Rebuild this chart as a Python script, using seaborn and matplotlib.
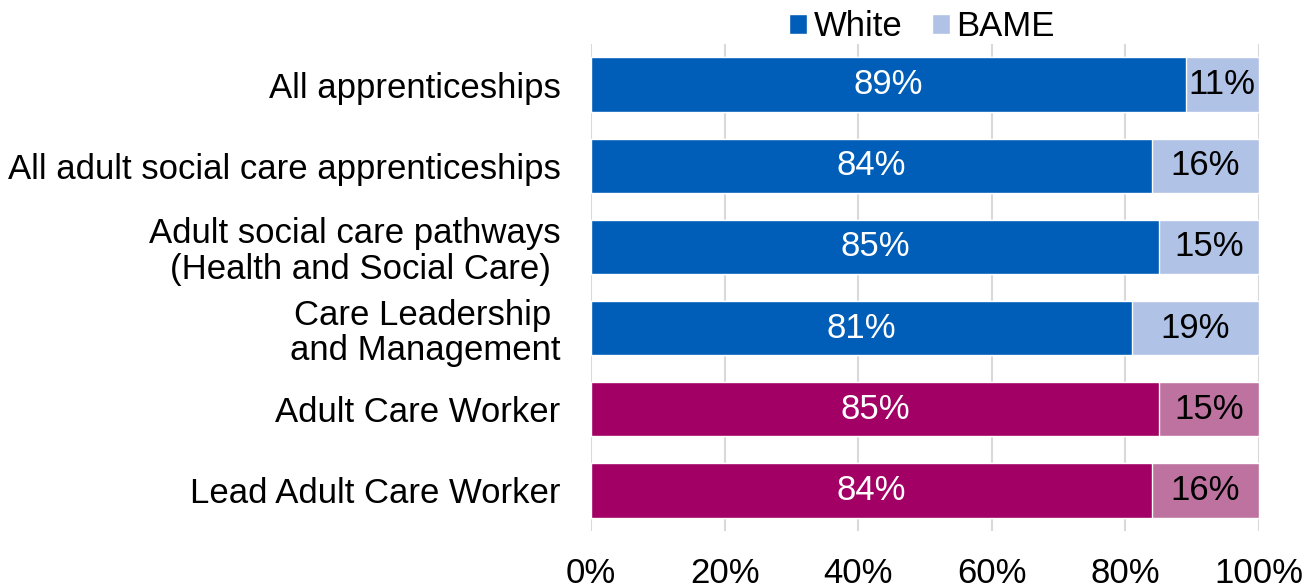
import matplotlib
matplotlib.use("Agg")
import matplotlib.pyplot as plt
from matplotlib.patches import Patch
import seaborn as sns
import pandas as pd

categories = [
    "All apprenticeships",
    "All adult social care apprenticeships",
    "Adult social care pathways\n(Health and Social Care) ",
    "Care Leadership \nand Management",
    "Adult Care Worker",
    "Lead Adult Care Worker",
]
white = [89, 84, 85, 81, 85, 84]
bame = [11, 16, 15, 19, 15, 16]
group = ["all", "all", "all", "all", "std", "std"]

dark = {"all": "#005EB8", "std": "#A20064"}
light = {"all": "#B0C2E6", "std": "#BE72A0"}

FS = 25

df = pd.DataFrame({"category": categories, "White": white, "BAME": bame, "group": group})
df["total"] = df["White"] + df["BAME"]

sns.set_theme(style="white")
plt.rcParams["font.family"] = ["Liberation Sans", "DejaVu Sans"]

fig = plt.figure(figsize=(13.06, 5.86), dpi=100)
ax = fig.add_axes([591 / 1306, 1 - 531 / 586, 668 / 1306, 487 / 586])

# full-length light bar (White + BAME), then the White share over it
sns.barplot(data=df, x="total", y="category", hue="category",
            palette=[light[g] for g in group], width=0.67, legend=False,
            ax=ax, saturation=1, zorder=2)
sns.barplot(data=df, x="White", y="category", hue="category",
            palette=[dark[g] for g in group], width=0.67, legend=False,
            ax=ax, saturation=1, zorder=3)

for i, row in df.iterrows():
    ax.text(row["White"] / 2, i, f"{row['White']}%", ha="center", va="center",
            color="white", fontsize=FS, zorder=4)
    ax.text(row["White"] + row["BAME"] / 2, i, f"{row['BAME']}%", ha="center",
            va="center", color="black", fontsize=FS, zorder=4)

ax.set_xlim(0, 100)
ax.set_ylim(5.5, -0.5)
ax.set_xticks([0, 20, 40, 60, 80, 100])
ax.set_xticklabels([f"{v}%" for v in [0, 20, 40, 60, 80, 100]])
ax.xaxis.grid(True, color="#D9D9D9", linewidth=1.5, zorder=0)
ax.set_axisbelow(True)
for s in ax.spines.values():
    s.set_visible(False)
ax.tick_params(axis="x", length=0, pad=19, labelsize=FS, labelcolor="black")
ax.tick_params(axis="y", length=0, pad=22, labelsize=FS, labelcolor="black")
for lbl in ax.get_yticklabels():
    lbl.set_linespacing(1.1)
ax.set_xlabel("")
ax.set_ylabel("")

handles = [Patch(facecolor=dark["all"], label="White"),
           Patch(facecolor=light["all"], label="BAME")]
fig.legend(handles=handles, loc="center", bbox_to_anchor=(922 / 1306, 1 - 27 / 586),
           ncol=2, frameon=False, fontsize=FS, handlelength=0.52, handleheight=0.52,
           handletextpad=0.18, columnspacing=0.85, labelcolor="black")

fig.savefig("out.png", dpi=100)
